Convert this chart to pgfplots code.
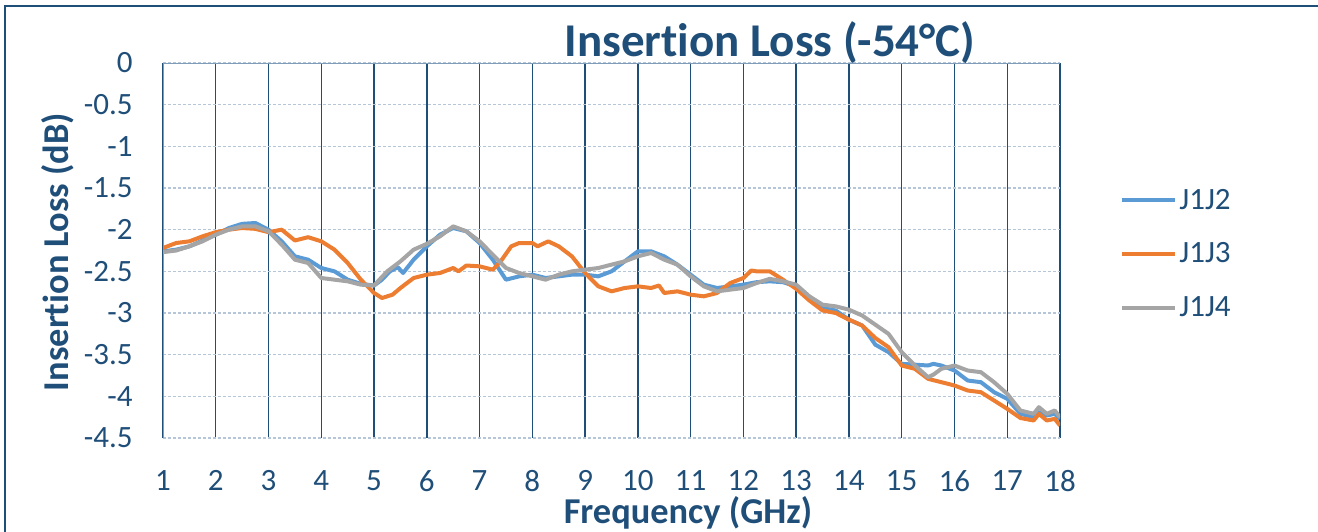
\documentclass[border=0pt]{standalone}
\usepackage{pgfplots}
\pgfplotsset{compat=1.18}
\usepackage{fontspec}
\setmainfont{Carlito}[RawFeature={-liga;-clig;-dlig;-calt}]
\definecolor{dkblue}{HTML}{1F4E79}
\definecolor{gridh}{HTML}{B4C6D8}
\definecolor{axl}{HTML}{7F9DBB}
\definecolor{sblue}{HTML}{5B9BD5}
\definecolor{sorange}{HTML}{ED7D31}
\definecolor{sgray}{HTML}{A5A5A5}
\begin{document}
\begin{tikzpicture}[x=0.5pt,y=0.5pt]
\useasboundingbox (0,0) rectangle (1318,531);
\draw[dkblue, line width=1.1pt] (5,-5) -- (5,525) -- (1330,525);
\begin{axis}[
  at={(81.5pt,46.5pt)}, anchor=south west,
  scale only axis, width=448.5pt, height=187.5pt,
  xmin=1, xmax=18, ymin=-4.5, ymax=0,
  xtick={1,...,18},
  ytick={0,-0.5,-1,-1.5,-2,-2.5,-3,-3.5,-4,-4.5},
  yticklabels={0,-0.5,-1,-1.5,-2,-2.5,-3,-3.5,-4,-4.5},
  xticklabels={1,2,3,4,5,6,7,8,9,10,11,12,13,14,15,16,17,18},
  axis line style={draw=none},
  major tick length=0pt,
  xmajorgrids, ymajorgrids,
  x grid style={dkblue, line width=0.7pt},
  y grid style={gridh, dashed, line width=0.7pt, dash pattern=on 1.5pt off 1pt},
  tick label style={font=\fontsize{15.5}{18}\selectfont, text=dkblue, inner sep=0pt},
  yticklabel style={anchor=east, xshift=-15pt},
  xticklabel style={anchor=north, yshift=-16pt},
  legend style={draw=none, fill=none, at={(1,0.4907)}, anchor=west, xshift=27pt,
    font=\fontsize{15.5}{18}\selectfont, text=dkblue, row sep=13.25pt,
    nodes={inner sep=1pt}},
  legend cell align=left,
  legend image code/.code={\draw[#1, line width=2pt] (0,0) -- (26.5pt,0);},
  every axis plot/.append style={line width=2pt, line join=round},
]
\draw[axl, line width=0.8pt] (axis cs:1,-4.5) -- (axis cs:1,0) -- (axis cs:18,0);
\addplot[sblue, no marks] coordinates {
(1,-2.26) (1.25,-2.24) (1.5,-2.2) (1.75,-2.13) (2,-2.06) (2.25,-1.98) (2.5,-1.93) (2.75,-1.92) (3,-2.0) (3.25,-2.14) (3.5,-2.32) (3.75,-2.36) (4,-2.46) (4.25,-2.5) (4.5,-2.6) (4.75,-2.65) (5,-2.67) (5.15,-2.6) (5.3,-2.5) (5.45,-2.45) (5.55,-2.52) (5.75,-2.36) (6,-2.2) (6.25,-2.06) (6.5,-1.98) (6.75,-2.02) (7,-2.16) (7.25,-2.36) (7.5,-2.6) (7.75,-2.56) (8,-2.54) (8.25,-2.58) (8.5,-2.56) (8.75,-2.54) (9,-2.54) (9.25,-2.56) (9.5,-2.5) (9.75,-2.38) (10,-2.26) (10.25,-2.26) (10.5,-2.32) (10.75,-2.42) (11,-2.54) (11.25,-2.66) (11.5,-2.7) (11.75,-2.68) (12,-2.66) (12.25,-2.63) (12.5,-2.62) (12.75,-2.63) (13,-2.68) (13.25,-2.82) (13.5,-2.94) (13.75,-2.97) (14,-3.08) (14.25,-3.15) (14.5,-3.38) (14.75,-3.47) (15,-3.61) (15.25,-3.62) (15.5,-3.63) (15.6,-3.61) (15.75,-3.63) (16,-3.69) (16.25,-3.81) (16.5,-3.83) (16.75,-3.95) (17,-4.03) (17.25,-4.21) (17.5,-4.25) (17.6,-4.19) (17.75,-4.23) (17.9,-4.21) (18,-4.27)
};
\addlegendentry{J1J2}
\addplot[sorange, no marks] coordinates {
(1,-2.22) (1.25,-2.16) (1.5,-2.14) (1.75,-2.08) (2,-2.03) (2.25,-2.0) (2.5,-1.98) (2.75,-1.99) (3,-2.03) (3.25,-2.0) (3.5,-2.13) (3.75,-2.09) (4,-2.14) (4.25,-2.24) (4.5,-2.4) (4.75,-2.6) (5,-2.76) (5.15,-2.82) (5.35,-2.78) (5.5,-2.7) (5.75,-2.58) (6,-2.54) (6.25,-2.52) (6.5,-2.46) (6.6,-2.5) (6.75,-2.43) (7,-2.44) (7.25,-2.48) (7.4,-2.38) (7.6,-2.2) (7.75,-2.16) (8,-2.16) (8.1,-2.2) (8.3,-2.14) (8.5,-2.2) (8.75,-2.32) (9,-2.52) (9.25,-2.68) (9.5,-2.74) (9.75,-2.7) (10,-2.68) (10.25,-2.7) (10.4,-2.67) (10.5,-2.76) (10.75,-2.74) (11,-2.78) (11.25,-2.8) (11.5,-2.76) (11.75,-2.64) (12,-2.58) (12.15,-2.49) (12.25,-2.5) (12.5,-2.5) (12.75,-2.6) (13,-2.71) (13.25,-2.85) (13.5,-2.97) (13.75,-3.0) (14,-3.08) (14.25,-3.15) (14.5,-3.3) (14.75,-3.41) (15,-3.63) (15.25,-3.67) (15.5,-3.79) (15.75,-3.83) (16,-3.87) (16.25,-3.93) (16.5,-3.95) (16.75,-4.05) (17,-4.15) (17.25,-4.26) (17.5,-4.29) (17.6,-4.21) (17.75,-4.29) (17.9,-4.27) (18,-4.35)
};
\addlegendentry{J1J3}
\addplot[sgray, no marks] coordinates {
(1,-2.27) (1.25,-2.25) (1.5,-2.2) (1.75,-2.14) (2,-2.06) (2.25,-2.0) (2.5,-1.96) (2.75,-1.96) (3,-2.02) (3.25,-2.18) (3.5,-2.36) (3.75,-2.4) (4,-2.58) (4.25,-2.6) (4.5,-2.62) (4.75,-2.66) (5,-2.67) (5.25,-2.5) (5.5,-2.38) (5.75,-2.24) (6,-2.17) (6.25,-2.08) (6.5,-1.96) (6.75,-2.02) (7,-2.14) (7.25,-2.3) (7.5,-2.46) (7.75,-2.52) (8,-2.56) (8.25,-2.6) (8.5,-2.54) (8.75,-2.5) (9,-2.48) (9.25,-2.46) (9.5,-2.42) (9.75,-2.38) (10,-2.32) (10.25,-2.28) (10.5,-2.36) (10.75,-2.42) (11,-2.56) (11.25,-2.68) (11.5,-2.74) (11.75,-2.72) (12,-2.7) (12.25,-2.64) (12.5,-2.59) (12.75,-2.62) (13,-2.66) (13.25,-2.8) (13.5,-2.9) (13.75,-2.92) (14,-2.96) (14.25,-3.03) (14.5,-3.14) (14.75,-3.25) (15,-3.47) (15.25,-3.63) (15.5,-3.77) (15.6,-3.74) (15.75,-3.67) (16,-3.63) (16.25,-3.69) (16.5,-3.71) (16.75,-3.83) (17,-3.97) (17.25,-4.17) (17.5,-4.21) (17.6,-4.13) (17.75,-4.21) (17.9,-4.17) (18,-4.25)
};
\addlegendentry{J1J4}
\end{axis}
\node[text=dkblue, font=\fontsize{23.5}{27}\selectfont\bfseries, inner sep=0pt] at (770,488) {Insertion Loss (-54°C)};
\node[text=dkblue, font=\fontsize{18.2}{21}\selectfont\bfseries, inner sep=0pt] at (688,18) {Frequency (GHz)};
\node[text=dkblue, font=\fontsize{18.2}{21}\selectfont\bfseries, inner sep=0pt, rotate=90] at (58,279) {Insertion Loss (dB)};
\end{tikzpicture}
\end{document}
